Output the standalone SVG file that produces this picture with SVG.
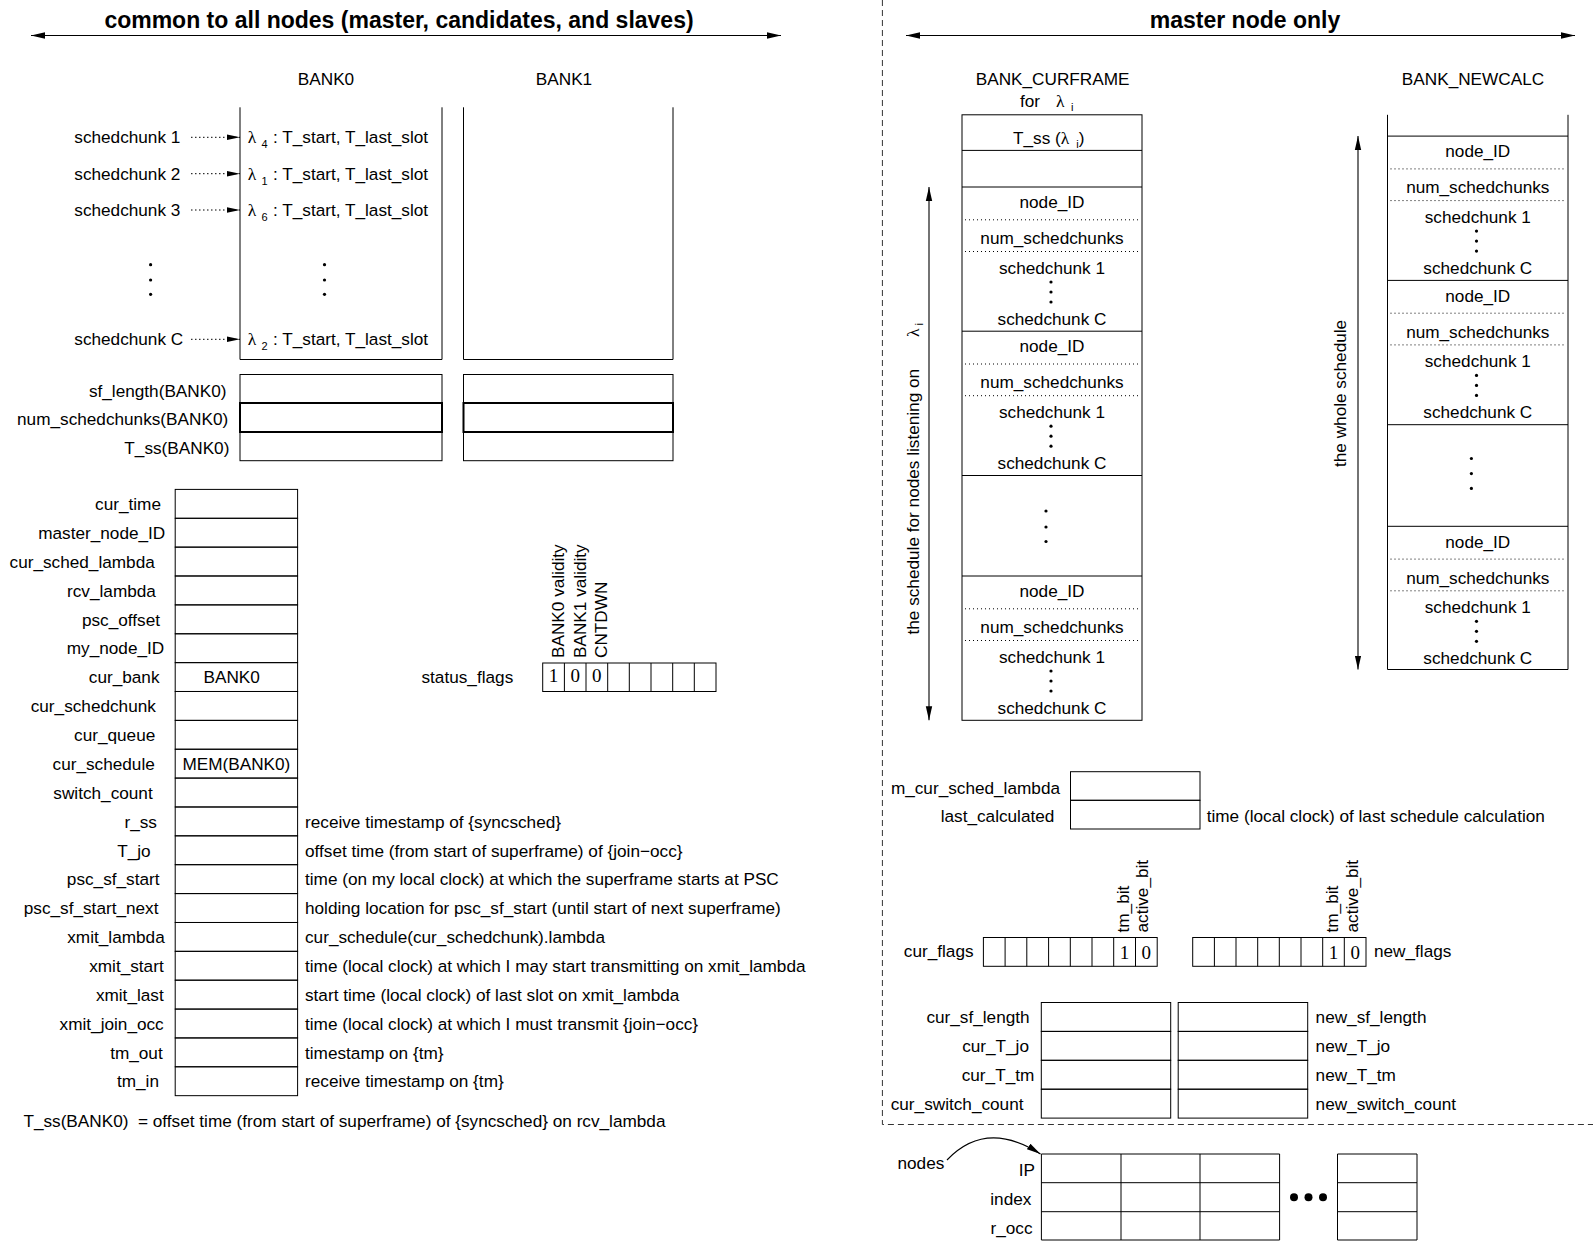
<svg xmlns="http://www.w3.org/2000/svg" width="1593" height="1241" viewBox="0 0 1593 1241">
<defs>
<style>
text{font-family:"Liberation Sans",Arial,Helvetica,sans-serif;font-size:17.2px;fill:#000}
.e{text-anchor:end}
.m{text-anchor:middle}
.h{font-size:23px;font-weight:bold;text-anchor:middle}
.g{font-family:"Liberation Serif","Times New Roman",serif;font-size:17.5px}
.s{font-size:11px}
.d{font-family:"Liberation Serif","Times New Roman",serif;font-size:19px;text-anchor:middle}
.pre{white-space:pre}
.c{fill:none;stroke:#000;stroke-width:1}
.k{fill:none;stroke:#000;stroke-width:2}
.ln{fill:none;stroke:#000;stroke-width:1}
.sep{fill:none;stroke:#000;stroke-width:1;stroke-dasharray:1 3}
.dash{fill:none;stroke:#333;stroke-width:1;stroke-dasharray:6 4}
.ptr{fill:none;stroke:#000;stroke-width:1;stroke-dasharray:1.5 2.5}
.arr{fill:none;stroke:#000;stroke-width:1.1}
.pt{fill:#000}
</style>
<marker id="ah" markerUnits="userSpaceOnUse" viewBox="0 0 14 8" refX="14" refY="4" markerWidth="14" markerHeight="8" orient="auto-start-reverse"><path d="M0,0.8 L14,4 L0,7.2 z" fill="#000"/></marker>
<marker id="ahs" markerUnits="userSpaceOnUse" viewBox="0 0 13 7" refX="13" refY="3.5" markerWidth="13" markerHeight="7" orient="auto"><path d="M0,0.8 L13,3.5 L0,6.2 z" fill="#000"/></marker>
</defs>
<rect width="1593" height="1241" fill="#fff"/>

<!-- section separators -->
<g id="separators">
<path class="dash" d="M882.4,0 V1124.5 H1593"/>
</g>

<!-- section headings -->
<g id="heading-common"><text class="h" x="399" y="28">common to all nodes (master, candidates, and slaves)</text></g>
<g id="heading-master"><text class="h" x="1245" y="28">master node only</text></g>

<!-- BANK0 -->
<g id="bank0">
<text class="m" x="326" y="85">BANK0</text>
<path class="ln" d="M240,107.3 V359.5 H442 V107.3"/>
<text class="g" x="247.8" y="143.3">λ</text><text class="s" x="261.5" y="148.3">4</text><text x="273" y="143.3">: T_start, T_last_slot</text>
<text class="g" x="247.8" y="179.7">λ</text><text class="s" x="261.5" y="184.7">1</text><text x="273" y="179.7">: T_start, T_last_slot</text>
<text class="g" x="247.8" y="216">λ</text><text class="s" x="261.5" y="221">6</text><text x="273" y="216">: T_start, T_last_slot</text>
<circle class="pt" cx="324.5" cy="264.7" r="1.6"/><circle class="pt" cx="324.5" cy="280" r="1.6"/><circle class="pt" cx="324.5" cy="294.3" r="1.6"/>
<text class="g" x="247.8" y="345.3">λ</text><text class="s" x="261.5" y="350.3">2</text><text x="273" y="345.3">: T_start, T_last_slot</text>
</g>

<!-- BANK1 -->
<g id="bank1">
<text class="m" x="564" y="85">BANK1</text>
<path class="ln" d="M463.5,107.3 V359.5 H673 V107.3"/>
</g>

<!-- schedchunk labels -->
<g id="schedchunk-labels">
<text x="74.3" y="143.3">schedchunk 1</text>
<text x="74.3" y="179.7">schedchunk 2</text>
<text x="74.3" y="216">schedchunk 3</text>
<circle class="pt" cx="150.6" cy="264.7" r="1.6"/><circle class="pt" cx="150.6" cy="280" r="1.6"/><circle class="pt" cx="150.6" cy="294.3" r="1.6"/>
<text x="74.3" y="345.3">schedchunk C</text>
</g>

<!-- per-bank header fields -->
<g id="sf_length">
<text class="e" x="226.5" y="396.7">sf_length(BANK0)</text>
<rect class="c" x="240" y="374.5" width="202" height="28.5"/>
<rect class="c" x="463.5" y="374.5" width="209.5" height="28.5"/>
</g>
<g id="num_schedchunks">
<text class="e" x="228.2" y="425.3">num_schedchunks(BANK0)</text>
<rect class="k" x="240" y="403" width="202" height="29"/>
<rect class="k" x="463.5" y="403" width="209.5" height="29"/>
</g>
<g id="T_ss">
<text class="e" x="229.4" y="454.3">T_ss(BANK0)</text>
<rect class="c" x="240" y="432" width="202" height="28.7"/>
<rect class="c" x="463.5" y="432" width="209.5" height="28.7"/>
</g>

<!-- node-wide registers -->
<g id="registers">
<g id="reg-cur_time"><rect class="c" x="175.2" y="489.4" width="122.4" height="28.87"/><text class="e" x="161" y="510">cur_time</text></g>
<g id="reg-master_node_ID"><rect class="c" x="175.2" y="518.3" width="122.4" height="28.87"/><text class="e" x="165.3" y="538.9">master_node_ID</text></g>
<g id="reg-cur_sched_lambda"><rect class="c" x="175.2" y="547.1" width="122.4" height="28.87"/><text class="e" x="154.8" y="567.8">cur_sched_lambda</text></g>
<g id="reg-rcv_lambda"><rect class="c" x="175.2" y="576" width="122.4" height="28.87"/><text class="e" x="155.9" y="596.6">rcv_lambda</text></g>
<g id="reg-psc_offset"><rect class="c" x="175.2" y="604.9" width="122.4" height="28.87"/><text class="e" x="160" y="625.5">psc_offset</text></g>
<g id="reg-my_node_ID"><rect class="c" x="175.2" y="633.8" width="122.4" height="28.87"/><text class="e" x="164.2" y="654.4">my_node_ID</text></g>
<g id="reg-cur_bank"><rect class="c" x="175.2" y="662.6" width="122.4" height="28.87"/><text class="e" x="159.5" y="683.3">cur_bank</text><text class="m" x="231.7" y="683.3">BANK0</text></g>
<g id="reg-cur_schedchunk"><rect class="c" x="175.2" y="691.5" width="122.4" height="28.87"/><text class="e" x="155.9" y="712.1">cur_schedchunk</text></g>
<g id="reg-cur_queue"><rect class="c" x="175.2" y="720.4" width="122.4" height="28.87"/><text class="e" x="155.3" y="741">cur_queue</text></g>
<g id="reg-cur_schedule"><rect class="c" x="175.2" y="749.2" width="122.4" height="28.87"/><text class="e" x="154.8" y="769.9">cur_schedule</text><text class="m" x="236.4" y="769.9">MEM(BANK0)</text></g>
<g id="reg-switch_count"><rect class="c" x="175.2" y="778.1" width="122.4" height="28.87"/><text class="e" x="152.7" y="798.7">switch_count</text></g>
<g id="reg-r_ss"><rect class="c" x="175.2" y="807" width="122.4" height="28.87"/><text class="e" x="156.9" y="827.6">r_ss</text><text x="305" y="827.6">receive timestamp of {syncsched}</text></g>
<g id="reg-T_jo"><rect class="c" x="175.2" y="835.8" width="122.4" height="28.87"/><text class="e" x="150.6" y="856.5">T_jo</text><text x="305" y="856.5">offset time (from start of superframe) of {join−occ}</text></g>
<g id="reg-psc_sf_start"><rect class="c" x="175.2" y="864.7" width="122.4" height="28.87"/><text class="e" x="159.5" y="885.3">psc_sf_start</text><text x="305" y="885.3">time (on my local clock) at which the superframe starts at PSC</text></g>
<g id="reg-psc_sf_start_next"><rect class="c" x="175.2" y="893.6" width="122.4" height="28.87"/><text class="e" x="158.5" y="914.2">psc_sf_start_next</text><text x="305" y="914.2">holding location for psc_sf_start (until start of next superframe)</text></g>
<g id="reg-xmit_lambda"><rect class="c" x="175.2" y="922.5" width="122.4" height="28.87"/><text class="e" x="164.7" y="943.1">xmit_lambda</text><text x="305" y="943.1">cur_schedule(cur_schedchunk).lambda</text></g>
<g id="reg-xmit_start"><rect class="c" x="175.2" y="951.3" width="122.4" height="28.87"/><text class="e" x="163.7" y="972">xmit_start</text><text x="305" y="972">time (local clock) at which I may start transmitting on xmit_lambda</text></g>
<g id="reg-xmit_last"><rect class="c" x="175.2" y="980.2" width="122.4" height="28.87"/><text class="e" x="163.7" y="1000.8">xmit_last</text><text x="305" y="1000.8">start time (local clock) of last slot on xmit_lambda</text></g>
<g id="reg-xmit_join_occ"><rect class="c" x="175.2" y="1009.1" width="122.4" height="28.87"/><text class="e" x="163.7" y="1029.7">xmit_join_occ</text><text x="305" y="1029.7">time (local clock) at which I must transmit {join−occ}</text></g>
<g id="reg-tm_out"><rect class="c" x="175.2" y="1037.9" width="122.4" height="28.87"/><text class="e" x="162.7" y="1058.6">tm_out</text><text x="305" y="1058.6">timestamp on {tm}</text></g>
<g id="reg-tm_in"><rect class="c" x="175.2" y="1066.8" width="122.4" height="28.87"/><text class="e" x="159" y="1087.4">tm_in</text><text x="305" y="1087.4">receive timestamp on {tm}</text></g>
</g>

<g id="note-T_ss"><text class="pre" x="23.4" y="1127">T_ss(BANK0)  = offset time (from start of superframe) of {syncsched} on rcv_lambda</text></g>

<!-- status flag byte -->
<g id="status_flags">
<text x="421.5" y="683">status_flags</text>
<rect class="c" x="542.7" y="663" width="173.3" height="28.5"/>
<path class="ln" d="M564.4,663V691.5M586,663V691.5M607.7,663V691.5M629.3,663V691.5M651,663V691.5M672.7,663V691.5M694.3,663V691.5"/>
<text class="d" x="553.5" y="682">1</text><text class="d" x="575.2" y="682">0</text><text class="d" x="596.8" y="682">0</text>
<text transform="translate(564,658) rotate(-90)">BANK0 validity</text>
<text transform="translate(585.5,658) rotate(-90)">BANK1 validity</text>
<text transform="translate(607,658) rotate(-90)">CNTDWN</text>
</g>

<!-- master: schedule bank for the current frame -->
<g id="bank_curframe">
<text class="m" x="1052.6" y="85">BANK_CURFRAME</text>
<text x="1020" y="106.5">for</text><text class="g" x="1056" y="106.5">λ</text><text class="s" x="1071" y="111">i</text>
<rect class="c" x="962" y="114.8" width="180" height="605.5"/>
<path class="ln" d="M962,150.4H1142M962,187H1142M962,331.2H1142M962,475.5H1142M962,576H1142"/>
<text x="1013" y="143.5">T_ss (<tspan class="g">λ</tspan><tspan class="s" dx="7" dy="4">i</tspan><tspan dy="-4">)</tspan></text>
<g id="curframe-entry-1">
<text class="m" x="1052" y="208.2">node_ID</text>
<path class="sep" d="M965,219.8H1139M965,251.5H1139"/>
<text class="m" x="1052" y="244.2">num_schedchunks</text>
<text class="m" x="1052" y="273.5">schedchunk 1</text>
<circle class="pt" cx="1051" cy="282" r="1.6"/><circle class="pt" cx="1051" cy="292" r="1.6"/><circle class="pt" cx="1051" cy="302" r="1.6"/>
<text class="m" x="1052" y="325">schedchunk C</text>
</g>
<g id="curframe-entry-2">
<text class="m" x="1052" y="352.4">node_ID</text>
<path class="sep" d="M965,364H1139M965,395.7H1139"/>
<text class="m" x="1052" y="388.4">num_schedchunks</text>
<text class="m" x="1052" y="417.7">schedchunk 1</text>
<circle class="pt" cx="1051" cy="426.2" r="1.6"/><circle class="pt" cx="1051" cy="436.2" r="1.6"/><circle class="pt" cx="1051" cy="446.2" r="1.6"/>
<text class="m" x="1052" y="469.2">schedchunk C</text>
</g>
<circle class="pt" cx="1046" cy="511" r="1.6"/><circle class="pt" cx="1046" cy="527" r="1.6"/><circle class="pt" cx="1046" cy="541.5" r="1.6"/>
<g id="curframe-entry-n">
<text class="m" x="1052" y="597.2">node_ID</text>
<path class="sep" d="M965,608.8H1139M965,640.5H1139"/>
<text class="m" x="1052" y="633.2">num_schedchunks</text>
<text class="m" x="1052" y="662.5">schedchunk 1</text>
<circle class="pt" cx="1051" cy="671" r="1.6"/><circle class="pt" cx="1051" cy="681" r="1.6"/><circle class="pt" cx="1051" cy="691" r="1.6"/>
<text class="m" x="1052" y="714">schedchunk C</text>
</g>
<text transform="translate(919,634.5) rotate(-90)">the schedule for nodes listening on</text>
<text transform="translate(919,337) rotate(-90)"><tspan class="g">λ</tspan><tspan class="s" dx="3" dy="4">i</tspan></text>
</g>

<!-- master: newly calculated schedule -->
<g id="bank_newcalc">
<text class="m" x="1473" y="85">BANK_NEWCALC</text>
<path class="ln" d="M1387.5,114.8V669.5H1568V114.8M1387.5,136.1H1568M1387.5,280.4H1568M1387.5,424.7H1568M1387.5,526.3H1568"/>
<g id="newcalc-entry-1">
<text class="m" x="1477.8" y="157.3">node_ID</text>
<path class="sep" d="M1390.5,168.9H1565M1390.5,200.6H1565"/>
<text class="m" x="1477.8" y="193.3">num_schedchunks</text>
<text class="m" x="1477.8" y="222.6">schedchunk 1</text>
<circle class="pt" cx="1476.5" cy="231.1" r="1.6"/><circle class="pt" cx="1476.5" cy="241.1" r="1.6"/><circle class="pt" cx="1476.5" cy="251.1" r="1.6"/>
<text class="m" x="1477.8" y="274.1">schedchunk C</text>
</g>
<g id="newcalc-entry-2">
<text class="m" x="1477.8" y="301.6">node_ID</text>
<path class="sep" d="M1390.5,313.2H1565M1390.5,344.9H1565"/>
<text class="m" x="1477.8" y="337.6">num_schedchunks</text>
<text class="m" x="1477.8" y="366.9">schedchunk 1</text>
<circle class="pt" cx="1476.5" cy="375.4" r="1.6"/><circle class="pt" cx="1476.5" cy="385.4" r="1.6"/><circle class="pt" cx="1476.5" cy="395.4" r="1.6"/>
<text class="m" x="1477.8" y="418.4">schedchunk C</text>
</g>
<circle class="pt" cx="1471.4" cy="458.5" r="1.6"/><circle class="pt" cx="1471.4" cy="473.6" r="1.6"/><circle class="pt" cx="1471.4" cy="488.4" r="1.6"/>
<g id="newcalc-entry-n">
<text class="m" x="1477.8" y="547.5">node_ID</text>
<path class="sep" d="M1390.5,559.1H1565M1390.5,590.8H1565"/>
<text class="m" x="1477.8" y="583.5">num_schedchunks</text>
<text class="m" x="1477.8" y="612.8">schedchunk 1</text>
<circle class="pt" cx="1476.5" cy="621.3" r="1.6"/><circle class="pt" cx="1476.5" cy="631.3" r="1.6"/><circle class="pt" cx="1476.5" cy="641.3" r="1.6"/>
<text class="m" x="1477.8" y="664.3">schedchunk C</text>
</g>
<text transform="translate(1346,467) rotate(-90)">the whole schedule</text>
</g>

<!-- master registers -->
<g id="m_cur_sched_lambda">
<text class="e" x="1060" y="793.5">m_cur_sched_lambda</text>
<rect class="c" x="1070.5" y="771.7" width="129.5" height="28.6"/>
</g>
<g id="last_calculated">
<text class="e" x="1054.4" y="822">last_calculated</text>
<rect class="c" x="1070.5" y="800.3" width="129.5" height="28.7"/>
<text x="1206.7" y="822">time (local clock) of last schedule calculation</text>
</g>

<g id="cur_flags">
<text class="e" x="973.6" y="957">cur_flags</text>
<rect class="c" x="983.4" y="937.5" width="173.8" height="28.8"/>
<path class="ln" d="M1005.1,937.5V966.3M1026.8,937.5V966.3M1048.6,937.5V966.3M1070.3,937.5V966.3M1092,937.5V966.3M1113.7,937.5V966.3M1135.5,937.5V966.3"/>
<text class="d" x="1124.6" y="959">1</text><text class="d" x="1146.3" y="959">0</text>
<text transform="translate(1129,932.5) rotate(-90)">tm_bit</text>
<text transform="translate(1148,932.5) rotate(-90)">active_bit</text>
</g>
<g id="new_flags">
<rect class="c" x="1192.7" y="937.5" width="173.3" height="28.8"/>
<path class="ln" d="M1214.4,937.5V966.3M1236,937.5V966.3M1257.7,937.5V966.3M1279.3,937.5V966.3M1301,937.5V966.3M1322.7,937.5V966.3M1344.3,937.5V966.3"/>
<text class="d" x="1333.5" y="959">1</text><text class="d" x="1355.2" y="959">0</text>
<text transform="translate(1338.4,932.5) rotate(-90)">tm_bit</text>
<text transform="translate(1357.5,932.5) rotate(-90)">active_bit</text>
<text x="1374" y="957">new_flags</text>
</g>

<g id="sf_length-pair">
<text class="e" x="1029.6" y="1023">cur_sf_length</text>
<rect class="c" x="1041.3" y="1002.5" width="129.4" height="28.9"/>
<rect class="c" x="1178.2" y="1002.5" width="129.5" height="28.9"/>
<text x="1315.6" y="1023">new_sf_length</text>
</g>
<g id="T_jo-pair">
<text class="e" x="1029" y="1052">cur_T_jo</text>
<rect class="c" x="1041.3" y="1031.4" width="129.4" height="28.9"/>
<rect class="c" x="1178.2" y="1031.4" width="129.5" height="28.9"/>
<text x="1315.6" y="1052">new_T_jo</text>
</g>
<g id="T_tm-pair">
<text class="e" x="1034.3" y="1081">cur_T_tm</text>
<rect class="c" x="1041.3" y="1060.3" width="129.4" height="28.9"/>
<rect class="c" x="1178.2" y="1060.3" width="129.5" height="28.9"/>
<text x="1315.6" y="1081">new_T_tm</text>
</g>
<g id="switch_count-pair">
<text class="e" x="1023.5" y="1110">cur_switch_count</text>
<rect class="c" x="1041.3" y="1089.2" width="129.4" height="28.9"/>
<rect class="c" x="1178.2" y="1089.2" width="129.5" height="28.9"/>
<text x="1315.6" y="1110">new_switch_count</text>
</g>

<!-- node table -->
<g id="nodes">
<text x="897.5" y="1168.7">nodes</text>
<text class="e" x="1035" y="1176">IP</text>
<text class="e" x="1031.4" y="1205">index</text>
<text class="e" x="1032.5" y="1233.7">r_occ</text>
<path class="ln" d="M1041.4,1154H1279.6V1240H1041.4ZM1041.4,1182.7H1279.6M1041.4,1211.7H1279.6M1121,1154V1240M1200,1154V1240"/>
<path class="ln" d="M1337.5,1154H1417V1240H1337.5ZM1337.5,1182.7H1417M1337.5,1211.7H1417"/>
<circle class="pt" cx="1294" cy="1197.3" r="4"/><circle class="pt" cx="1308.5" cy="1197.3" r="4"/><circle class="pt" cx="1323" cy="1197.3" r="4"/>
</g>

<!-- connectors -->
<g id="connectors">
<line class="arr" x1="31" y1="35.5" x2="781" y2="35.5" marker-start="url(#ah)" marker-end="url(#ah)"/>
<line class="arr" x1="906" y1="35.5" x2="1575" y2="35.5" marker-start="url(#ah)" marker-end="url(#ah)"/>
<line class="ptr" x1="191" y1="137.3" x2="240" y2="137.3" marker-end="url(#ahs)"/>
<line class="ptr" x1="191" y1="173.7" x2="240" y2="173.7" marker-end="url(#ahs)"/>
<line class="ptr" x1="191" y1="210" x2="240" y2="210" marker-end="url(#ahs)"/>
<line class="ptr" x1="191" y1="339.3" x2="240" y2="339.3" marker-end="url(#ahs)"/>
<line class="arr" x1="929" y1="187" x2="929" y2="720.3" marker-start="url(#ah)" marker-end="url(#ah)"/>
<line class="arr" x1="1358" y1="136.1" x2="1358" y2="669.5" marker-start="url(#ah)" marker-end="url(#ah)"/>
<path class="arr" d="M947,1160 Q986,1119 1040.5,1154" marker-end="url(#ah)"/>
</g>
</svg>
